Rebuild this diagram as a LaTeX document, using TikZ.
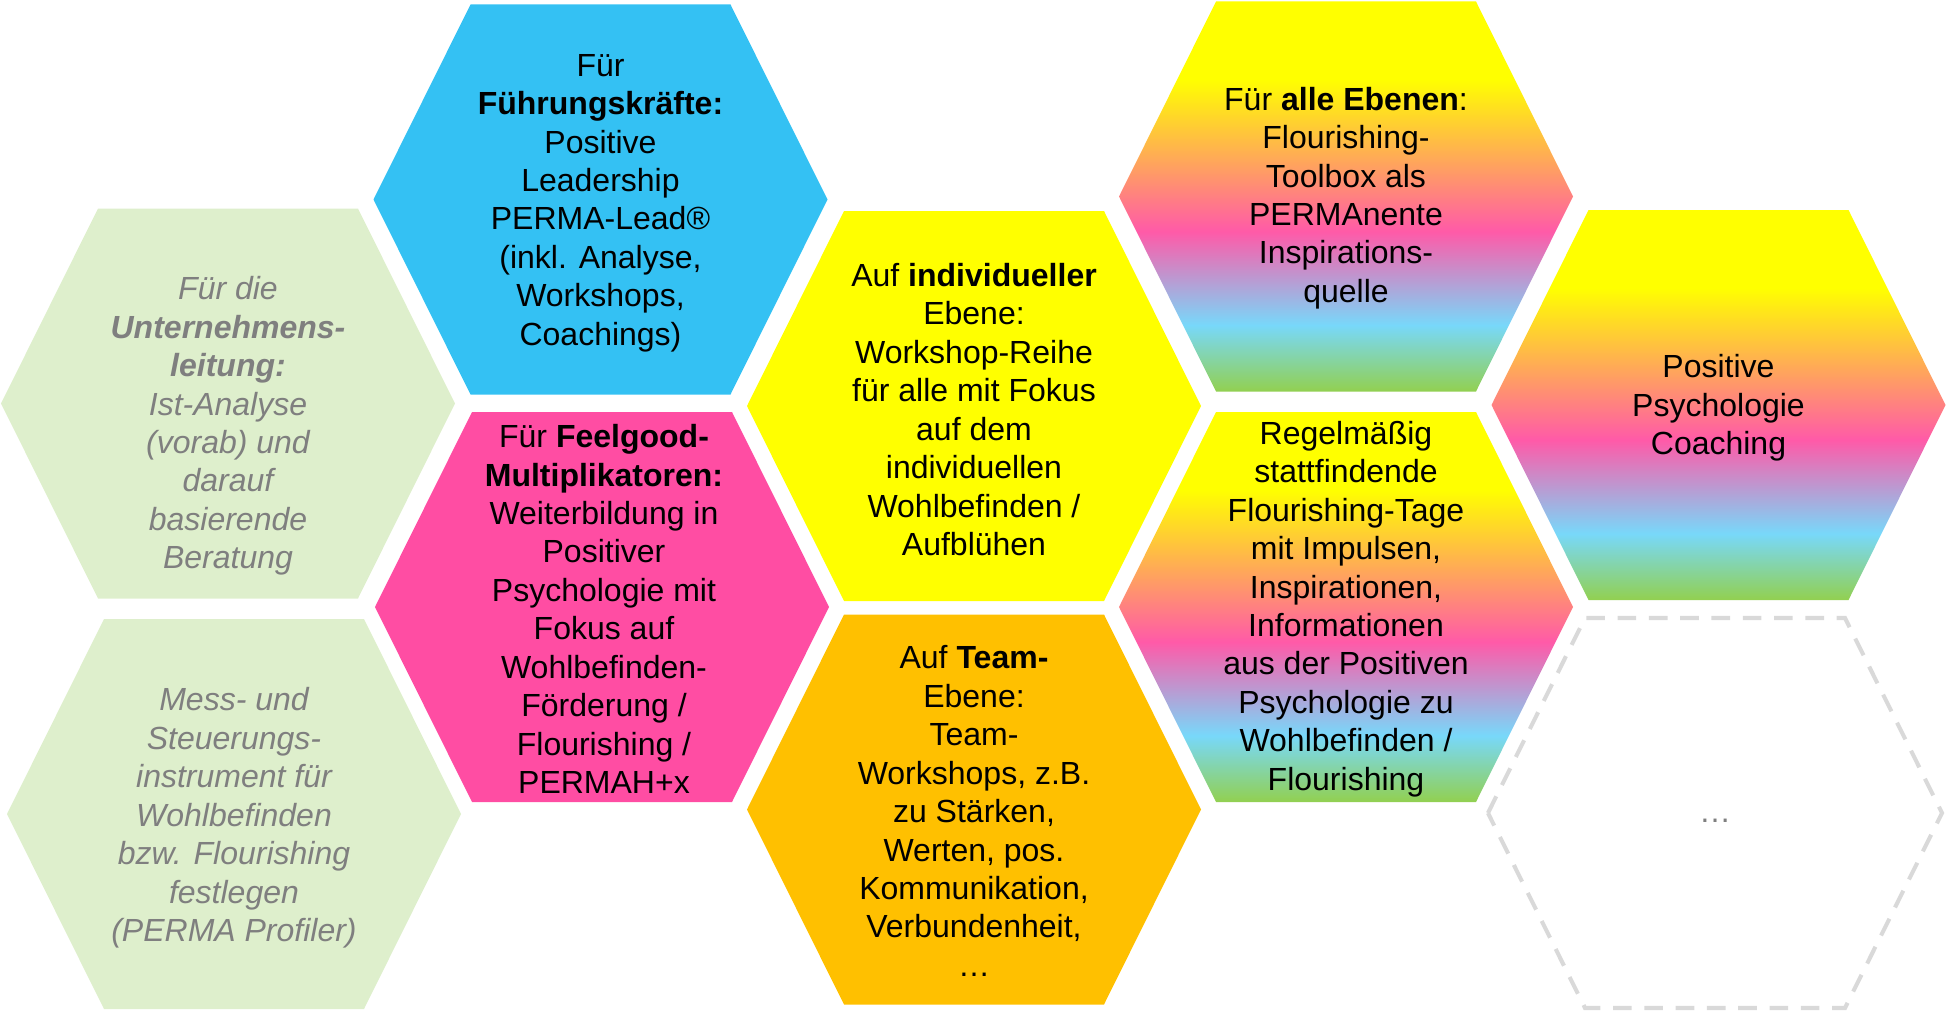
\documentclass[tikz,border=0pt]{standalone}
\usepackage{fontspec}
\setmainfont{Liberation Sans}

\definecolor{leitgreen}{HTML}{DEEFCC}
\definecolor{leitgrey}{HTML}{7F7F7F}
\definecolor{leadblue}{HTML}{34C1F3}
\definecolor{feelpink}{HTML}{FF4DA3}
\definecolor{teamorange}{HTML}{FFC000}
\definecolor{flyellow}{HTML}{FFFF00}
\definecolor{flpink}{HTML}{FF5AA8}
\definecolor{flblue}{HTML}{78D8FA}
\definecolor{flgreen}{HTML}{92D050}
\definecolor{dashgrey}{HTML}{D9D9D9}

% rainbow fill, bottom (25bp) to top (75bp)
\pgfdeclareverticalshading{flourish}{100bp}{color(0bp)=(flgreen); color(25bp)=(flgreen); color(33.5bp)=(flblue); color(45.5bp)=(flpink); color(65bp)=(flyellow); color(100bp)=(flyellow)}

\tikzset{
  hex/.style={
    insert path={++(-227,0) -- ++(97,-195) -- ++(260,0) -- ++(97,195) -- ++(-97,195) -- ++(-260,0) -- cycle}
  }
}
\tikzset{
  hextext/.style={align=center, inner sep=0pt, font=\fontsize{9.1}{10.93}\selectfont},
  leittext/.style={hextext, text=leitgrey, font=\fontsize{9.1}{10.93}\selectfont\itshape}
}

\begin{document}
\begin{tikzpicture}[x=0.01cm, y=-0.01cm]
\useasboundingbox (0,0) rectangle (1947,1012);

% Unternehmensleitung
\fill[leitgreen] (228,403.5) [hex];
\fill[leitgreen] (234,814) [hex];
\node[leittext] (leitung) at (228,426) {Für die\\\textbf{Unternehmens-}\\\textbf{leitung:}\\Ist-Analyse\\(vorab) und\\darauf\\basierende\\Beratung};
\node[leittext] (messung) at (234,818) {Mess- und\\Steuerungs-\\instrument für\\Wohlbefinden\\bzw. Flourishing\\festlegen\\(PERMA Profiler)};

% Fuehrungskraefte, Feelgood
\fill[leadblue] (600.5,199.5) [hex];
\fill[feelpink] (602,607) [hex];
\node[hextext] (lead) at (600.5,203) {Für\\\textbf{Führungskräfte:}\\Positive\\Leadership\\PERMA-Lead®\\(inkl. Analyse,\\Workshops,\\Coachings)};
\node[hextext] (feelgood) at (604,609) {Für \textbf{Feelgood-}\\\textbf{Multiplikatoren:}\\Weiterbildung in\\Positiver\\Psychologie mit\\Fokus auf\\Wohlbefinden-\\Förderung /\\Flourishing /\\PERMAH+x};

% individuell, Team
\fill[flyellow] (974,406) [hex];
\fill[teamorange] (974,809.5) [hex];
\node[hextext] (individuell) at (974,409.5) {Auf \textbf{individueller}\\Ebene:\\Workshop-Reihe\\für alle mit Fokus\\auf dem\\individuellen\\Wohlbefinden /\\Aufblühen};
\node[hextext] (team) at (974,811) {Auf \textbf{Team-}\\Ebene:\\Team-\\Workshops, z.B.\\zu Stärken,\\Werten, pos.\\Kommunikation,\\Verbundenheit,\\…};

% alle Ebenen
\shade[shading=flourish] (1346,196.5) [hex];
\shade[shading=flourish] (1346,607) [hex];
\shade[shading=flourish] (1718.5,405) [hex];
\node[hextext] (toolbox) at (1346,198) {Für \textbf{alle Ebenen}:\\Flourishing-\\Toolbox als\\PERMAnente\\Inspirations-\\quelle};
\node[hextext] (tage) at (1346,609) {Regelmäßig\\stattfindende\\Flourishing-Tage\\mit Impulsen,\\Inspirationen,\\Informationen\\aus der Positiven\\Psychologie zu\\Wohlbefinden /\\Flourishing};
\node[hextext] (coaching) at (1718.5,408) {Positive\\Psychologie\\Coaching};

% open slot
\draw[dashgrey, line width=1.15pt, dash pattern=on 5.3pt off 3.6pt] (1715,813) [hex];
\node[hextext, text=leitgrey] (more) at (1715,821) {…};

\end{tikzpicture}
\end{document}
